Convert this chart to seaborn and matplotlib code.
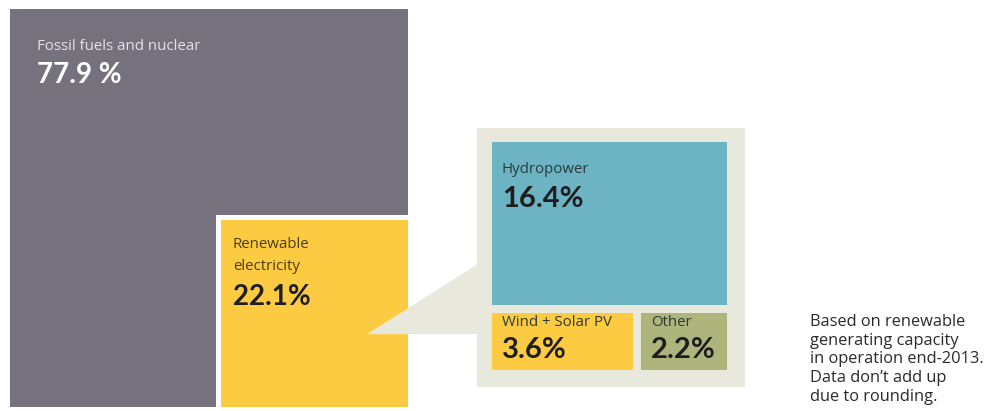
import numpy as np
import matplotlib.pyplot as plt
import seaborn as sns

# top level split (percent of total capacity)
main_labels = ["Fossil fuels and nuclear", "Renewable\nelectricity"]
main_shares = [77.9, 22.1]
main_values = ["77.9 %", "22.1%"]

# breakdown of renewables
renew_labels = ["Hydropower", "Wind + Solar PV", "Other"]
renew_shares = [16.4, 3.6, 2.2]
renew_values = ["16.4%", "3.6%", "2.2%"]

note_lines = ["Based on renewable", "generating capacity", "in operation end-2013.",
              "Data don\u2019t add up", "due to rounding."]

GRAY = "#75727d"
YELLOW = "#fdcb42"
BEIGE = "#e9e8dc"
BLUE = "#6cb3c3"
OLIVE = "#aeb57c"
DARK = "#1e1e1e"

sns.set_theme(style="white")
plt.rcParams["font.family"] = ["Lato", "DejaVu Sans"]
LABEL_FONT = ["Open Sans", "DejaVu Sans"]

PX = 39.8  # pixels per unit; the full square is 10 x 10 units
fig = plt.figure(figsize=(9.93, 4.11), dpi=100)
ax = fig.add_axes([0, 0, 1, 1])
ax.set_xlim(-10 / PX, 983 / PX)
ax.set_ylim(402 / PX, -9 / PX)
ax.axis("off")


def tile(x, y, w, h, color, z):
    # y axis is inverted, so bottom is the top edge
    ax.bar(x, h, width=w, bottom=y, align="edge", color=color, linewidth=0, zorder=z)


# big square = everything, renewables square sits in the corner
side = np.sqrt(sum(main_shares))
r = np.sqrt(main_shares[1])
border = 5 / PX
tile(0, 0, side, side, GRAY, 1)
tile(side - r - border, side - r - border, r + border, r + border, "white", 2)
tile(side - r, side - r, r, r, YELLOW, 3)

ax.text(0.68, 1.03, main_labels[0], color="#e4e3e8", fontsize=10.8,
        family=LABEL_FONT, zorder=5)
ax.text(0.68, 1.86, main_values[0], color="white", fontsize=20, fontweight="bold", zorder=5)

rx, ry = side - r + 0.3, side - r
for i, line in enumerate(main_labels[1].split("\n")):
    ax.text(rx, ry + 0.71 + i * 0.55, line, color="#4a3d12", fontsize=10.8,
            family=LABEL_FONT, zorder=5)
ax.text(rx, ry + 2.14, main_values[1], color=DARK, fontsize=20, fontweight="bold", zorder=5)

# inset panel with its connector
px0, py0, px1, py1 = 11.73, 2.99, 18.47, 9.5
tip = (8.97, 8.17)
ax.fill([tip[0], px0 + 0.1, px0 + 0.1], [tip[1], 6.36, tip[1]], color=BEIGE, lw=0, zorder=4)
tile(px0, py0, px1 - px0, py1 - py0, BEIGE, 4)

ix0, iy0 = px0 + 0.38, py0 + 0.36
iw = (px1 - 0.45) - ix0
ih = (py1 - 0.43) - iy0
gap = 0.2
tot = sum(renew_shares)
hydro_h = (ih - gap) * renew_shares[0] / tot
low_y = iy0 + hydro_h + gap
low_h = ih - hydro_h - gap
wind_w = (iw - gap) * renew_shares[1] / (renew_shares[1] + renew_shares[2])
other_x = ix0 + wind_w + gap

tile(ix0, iy0, iw, hydro_h, BLUE, 5)
tile(ix0, low_y, wind_w, low_h, YELLOW, 5)
tile(other_x, low_y, iw - wind_w - gap, low_h, OLIVE, 5)

# hydro text hangs from the top, the small tiles' text sits on the bottom
bottom = iy0 + ih
spots = [(ix0, iy0 + 0.78, iy0 + 1.63),
         (ix0, bottom - 1.1, bottom - 0.30),
         (other_x, bottom - 1.1, bottom - 0.30)]
for (bx, yl, yv), lab, val in zip(spots, renew_labels, renew_values):
    ax.text(bx + 0.25, yl, lab, color="#2b3a3d", fontsize=10.8, family=LABEL_FONT, zorder=6)
    ax.text(bx + 0.25, yv, val, color=DARK, fontsize=21, fontweight="bold", zorder=6)

for i, line in enumerate(note_lines):
    ax.text((810 - 10) / PX, (326 - 9) / PX + i * 18.7 / PX, line, color="#2a2a2a",
            fontsize=11.8, family=LABEL_FONT, zorder=6)

fig.savefig("out.png", dpi=100)
plt.close(fig)
